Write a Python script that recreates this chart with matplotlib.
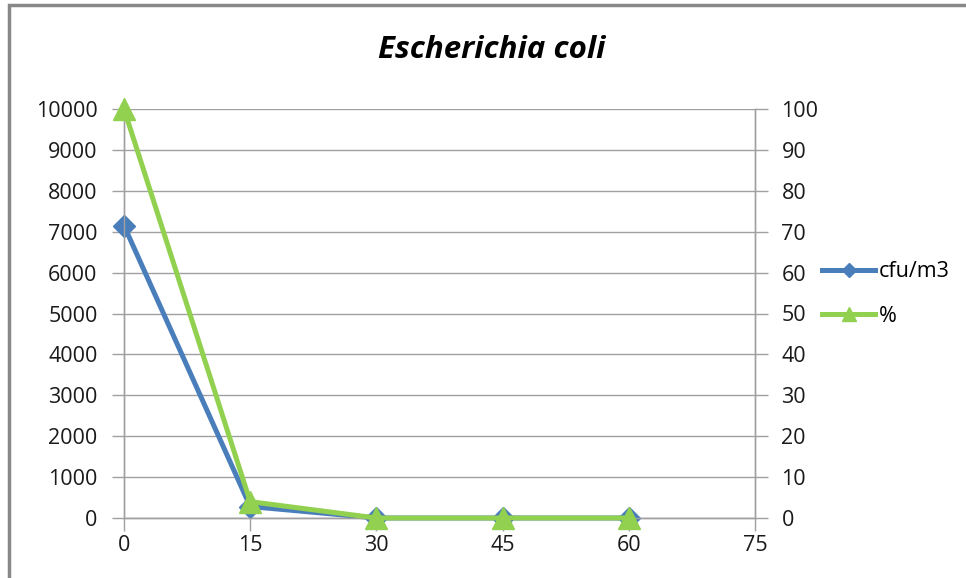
import numpy as np
import matplotlib.pyplot as plt
from matplotlib.patches import Rectangle

minutes = [0, 15, 30, 45, 60]
cfu_m3 = [7150, 280, 0, 0, 0]
percent = [100, 4, 0, 0, 0]

blue = '#4a7ebb'
green = '#92d050'
grey = '#a0a0a0'

plt.rcParams['font.family'] = ['Open Sans', 'DejaVu Sans']

fig = plt.figure(figsize=(9.66, 5.78), dpi=100)
ax = fig.add_axes([124/966, 1-518/578, (755-124)/966, (518-109)/578])
ax2 = ax.twinx()

l1, = ax.plot(minutes, cfu_m3, color=blue, lw=3.6, marker='D', ms=11.5,
              label='cfu/m3', clip_on=False, zorder=3)
l2, = ax2.plot(minutes, percent, color=green, lw=3.6, marker='^', ms=16,
               label='%', clip_on=False, zorder=4)

ax.set_xlim(0, 75)
ax.set_xticks(np.arange(0, 76, 15))
ax.set_ylim(0, 10000)
ax.set_yticks(np.arange(0, 10001, 1000))
ax2.set_ylim(0, 100)
ax2.set_yticks(np.arange(0, 101, 10))

ax.grid(axis='y', color=grey, lw=1)
ax.set_axisbelow(True)
for a in (ax, ax2):
    a.spines['top'].set_visible(False)
    for s in ('left', 'right', 'bottom'):
        a.spines[s].set_color(grey)
        a.spines[s].set_linewidth(1)
    a.tick_params(colors=grey, labelcolor='#1a1a1a', labelsize=15.5,
                  length=9, width=1)
ax.tick_params(axis='x', pad=3)
ax.tick_params(axis='y', pad=10)
ax2.tick_params(axis='y', pad=10)
ax2.set_zorder(ax.get_zorder() + 1)

fig.text(0.509, 1-50/578, 'Escherichia coli', ha='center', va='center',
         fontsize=22.5, fontweight='bold', fontstyle='italic')

fig.legend(handles=[l1, l2], loc='center left',
           bbox_to_anchor=(813/966, 1-294/578), frameon=False,
           fontsize=15.5, handlelength=2.5, handletextpad=0.15,
           labelspacing=1.1, borderaxespad=0, markerscale=0.6)

fig.patches.append(Rectangle((9/966, -0.01), 1.0, 1-5/578 + 0.01,
                             transform=fig.transFigure, fill=False,
                             edgecolor='#888888', lw=2.5))

fig.savefig('out.png', dpi=100)
